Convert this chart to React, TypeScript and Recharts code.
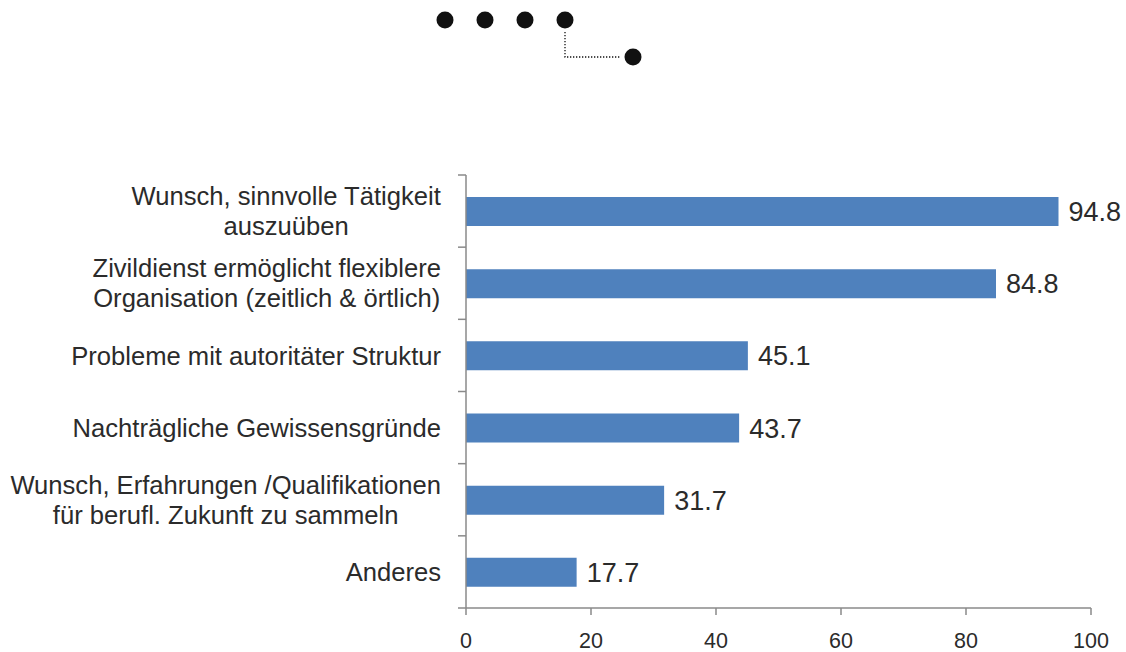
import { BarChart, Bar, XAxis, YAxis, LabelList } from 'recharts';

const categories = [
  'Wunsch, sinnvolle Tätigkeit\nauszuüben',
  'Zivildienst ermöglicht flexiblere\nOrganisation (zeitlich & örtlich)',
  'Probleme mit autoritäter Struktur',
  'Nachträgliche Gewissensgründe',
  'Wunsch, Erfahrungen /Qualifikationen\nfür berufl. Zukunft zu sammeln',
  'Anderes',
];
const values = [94.8, 84.8, 45.1, 43.7, 31.7, 17.7];
const xTicks = [0, 20, 40, 60, 80, 100];

const data = categories.map((label, i) => ({ label, value: values[i] }));

const W = 1126;
const H = 652;
const PLOT_LEFT = 466;
const PLOT_TOP = 175;
const PLOT_BOTTOM = 608;
const AXIS_COLOR = '#8a8a8a';
const TEXT_COLOR = '#2b2b2b';
const FONT = '"Liberation Sans", Arial, sans-serif';
const LABEL_SIZE = 25.6;

const step = (PLOT_BOTTOM - PLOT_TOP) / categories.length;

// multi-line labels are centred on each other, the block is right-aligned
let ctx: CanvasRenderingContext2D | null = null;
function textWidth(s: string) {
  if (!ctx) ctx = document.createElement('canvas').getContext('2d');
  if (!ctx) return s.length * LABEL_SIZE * 0.5;
  ctx.font = `${LABEL_SIZE}px "Liberation Sans", Arial, sans-serif`;
  return ctx.measureText(s).width;
}

function CategoryTick(props: any) {
  const { y, payload, index } = props;
  const lines: string[] = String(payload.value).split('\n');
  const lineH = 30;
  const first = -((lines.length - 1) / 2) * lineH;
  const right = PLOT_LEFT - 25;
  const blockW = Math.max(...lines.map(textWidth));
  const cx = right - blockW / 2;
  return (
    <g>
      <line x1={PLOT_LEFT - 8} x2={PLOT_LEFT} y1={y - step / 2} y2={y - step / 2} stroke={AXIS_COLOR} strokeWidth={1.5} />
      {index === categories.length - 1 && (
        <line x1={PLOT_LEFT - 8} x2={PLOT_LEFT} y1={y + step / 2} y2={y + step / 2} stroke={AXIS_COLOR} strokeWidth={1.5} />
      )}
      <text x={cx} y={y} textAnchor="middle" fontSize={LABEL_SIZE} fill={TEXT_COLOR} fontFamily={FONT}>
        {lines.map((l, i) => (
          <tspan key={i} x={cx} y={y + first + i * lineH} dy="0.36em">
            {l}
          </tspan>
        ))}
      </text>
    </g>
  );
}

function Logo() {
  return (
    <svg width={W} height={90} style={{ position: 'absolute', left: 0, top: 0 }}>
      {[445, 485, 525, 565].map((cx) => (
        <circle key={cx} cx={cx} cy={20} r={8.5} fill="#111" />
      ))}
      <polyline points="565,32 565,57 620,57" fill="none" stroke="#111" strokeWidth={1.3} strokeDasharray="1.3 1.7" />
      <circle cx={633} cy={57} r={8.5} fill="#111" />
    </svg>
  );
}

export default function App() {
  return (
    <div style={{ position: 'absolute', left: 0, top: 0, width: W, height: H, background: '#fff' }}>
      <Logo />
      <BarChart
        width={W}
        height={H}
        data={data}
        layout="vertical"
        margin={{ top: PLOT_TOP, right: 35, left: 0, bottom: 0 }}
      >
        <XAxis
          type="number"
          domain={[0, 100]}
          ticks={xTicks}
          height={H - PLOT_BOTTOM}
          tickSize={7}
          tickMargin={18}
          stroke={AXIS_COLOR}
          axisLine={{ stroke: AXIS_COLOR, strokeWidth: 1.5 }}
          tickLine={{ stroke: AXIS_COLOR, strokeWidth: 1.5 }}
          tick={{ fontSize: 21.5, fill: TEXT_COLOR, fontFamily: FONT }}
        />
        <YAxis
          type="category"
          dataKey="label"
          width={PLOT_LEFT}
          tickLine={false}
          axisLine={{ stroke: AXIS_COLOR, strokeWidth: 1.5 }}
          tick={<CategoryTick />}
          interval={0}
        />
        <Bar dataKey="value" fill="#4F81BD" barSize={29} isAnimationActive={false}>
          <LabelList
            dataKey="value"
            position="right"
            offset={10}
            fontSize={27}
            fill={TEXT_COLOR}
            fontFamily={FONT}
            formatter={(v: any) => Number(v).toFixed(1)}
          />
        </Bar>
      </BarChart>
    </div>
  );
}
